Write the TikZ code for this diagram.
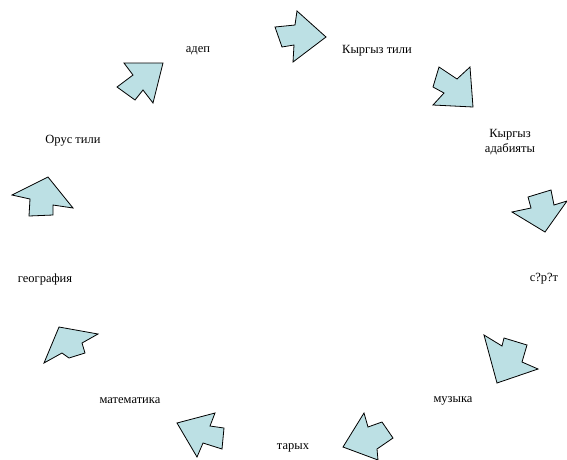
\documentclass[tikz,border=0pt]{standalone}
\usepackage{fontspec}
\setmainfont{Liberation Serif}
\definecolor{arrowfill}{RGB}{188,224,228}
\begin{document}
\begin{tikzpicture}[x=1pt,y=-1pt,
  lbl/.style={font=\fontsize{12.5}{14.5}\selectfont, inner sep=0pt, align=center},
  blockarrow/.style={fill=arrowfill, draw=black, line width=0.8pt, line join=miter}]
\useasboundingbox (0,0) rectangle (567,459);
\fill[white] (0,0) rectangle (567,459);
% labels
\node[lbl] (adep) at (198,51) {адеп};
\node[lbl] (kyrg) at (377,51) {Кыргыз тили};
\node[lbl] (adab) at (510,142) {Кыргыз\\адабияты};
\node[lbl] (surot) at (544,279) {с?р?т};
\node[lbl] (muz) at (453,401) {музыка};
\node[lbl] (tarykh) at (293,448) {тарых};
\node[lbl] (mat) at (130,401) {математика};
\node[lbl] (geo) at (45,279) {география};
\node[lbl] (orus) at (73,141) {Орус тили};
% block arrows
\draw[blockarrow] (275,27) -- (295,25) -- (297,11) -- (326,37) -- (293,62) -- (294,45) -- (282,47) -- cycle;
\draw[blockarrow] (439,67) -- (457,79) -- (470,67) -- (473,107) -- (433,105) -- (444,93) -- (433,87) -- cycle;
\draw[blockarrow] (528,197) -- (531,208) -- (512,212) -- (545,232) -- (567,201) -- (554,205) -- (551,190) -- cycle;
\draw[blockarrow] (484,335) -- (502,346) -- (504,338) -- (527,345) -- (522,362) -- (538,369) -- (497,383) -- cycle;
\draw[blockarrow] (364,413) -- (368,427) -- (382,422) -- (393,438) -- (377,449) -- (378,460) -- (343,447) -- cycle;
\draw[blockarrow] (177,423) -- (215,413) -- (210,426) -- (224,428) -- (222,449) -- (203,443) -- (197,457) -- cycle;
\draw[blockarrow] (59,327) -- (98,334) -- (82,343) -- (85,353) -- (69,358) -- (62,353) -- (44,363) -- cycle;
\draw[blockarrow] (12,195) -- (48,177) -- (73,208) -- (53,205) -- (53,215) -- (29,216) -- (30,199) -- cycle;
\draw[blockarrow] (124,63) -- (163,63) -- (153,103) -- (143,90) -- (135,100) -- (117,87) -- (133,75) -- cycle;
\end{tikzpicture}
\end{document}
